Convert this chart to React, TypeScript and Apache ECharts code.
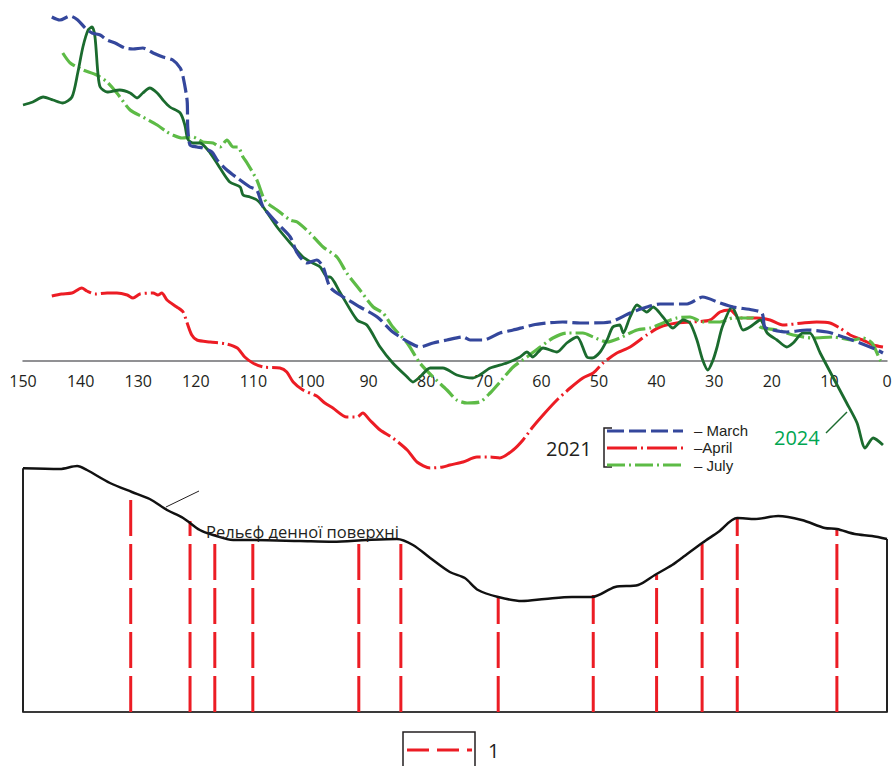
import React, { useEffect, useRef } from "react";
import * as echarts from "echarts";

// distance (x, decreasing to the right) and relative level values
const marchData: [number, number][] = [
  [145.0, 34.4], [143.6, 34.1], [141.8, 34.5], [140.5, 34.1], [139.2, 33.3], [138.0, 32.8], [136.6, 32.6],
  [135.4, 32.1], [134.0, 31.8], [132.3, 31.3], [130.9, 31.2], [129.2, 31.3], [127.4, 30.8], [125.7, 30.4],
  [124.0, 30.1], [122.7, 29.3], [122.2, 28.4], [121.5, 26.0], [121.4, 23.4], [121.0, 21.6], [119.8, 21.4],
  [118.8, 21.3], [117.2, 20.9], [116.3, 20.1], [114.6, 19.1], [112.8, 18.3], [110.6, 17.4], [109.4, 17.1],
  [108.3, 15.4], [105.9, 13.8], [103.6, 12.4], [102.4, 10.8], [100.7, 9.8], [99.0, 10.1], [97.9, 9.4],
  [96.7, 7.4], [94.4, 6.4], [91.5, 5.4], [88.5, 4.4], [85.8, 2.9], [82.8, 1.8], [81.1, 1.4], [78.8, 1.8],
  [76.4, 2.1], [73.6, 2.4], [72.4, 2.1], [70.1, 2.1], [67.2, 2.8], [64.9, 3.1], [61.5, 3.6], [59.0, 3.8],
  [56.3, 3.9], [53.3, 3.8], [52.1, 3.8], [48.1, 3.9], [44.6, 4.8], [41.7, 5.4], [39.4, 5.7], [34.7, 5.7],
  [32.0, 6.4], [29.0, 5.8], [26.7, 5.4], [23.3, 5.1], [21.7, 4.8], [21.2, 3.4], [19.8, 3.1], [17.4, 2.9],
  [13.9, 3.1], [10.4, 2.9], [7.6, 2.4], [4.7, 1.8], [1.7, 1.1], [0.7, 0.8],
];

const aprilData: [number, number][] = [
  [145.0, 6.5], [143.3, 6.7], [141.5, 6.8], [139.8, 7.3], [138.9, 7.0], [137.5, 6.7], [135.4, 6.8],
  [133.7, 6.8], [131.9, 6.6], [130.9, 6.3], [129.7, 6.7], [127.4, 6.8], [126.6, 6.6], [125.9, 6.8],
  [125.0, 6.1], [123.3, 5.4], [122.2, 4.9], [121.5, 3.8], [120.7, 2.6], [119.8, 2.1], [117.5, 1.9],
  [114.6, 1.7], [112.8, 1.3], [111.5, 0.4], [110.1, -0.2], [108.3, -0.6], [105.4, -0.7], [104.2, -1.1],
  [103.1, -2.1], [101.4, -2.9], [99.0, -3.5], [97.6, -4.2], [96.2, -4.7], [93.8, -5.6], [92.0, -5.6],
  [91.0, -5.2], [89.8, -5.9], [88.0, -6.9], [85.8, -7.7], [83.3, -8.9], [81.6, -10.1], [79.3, -10.7],
  [77.1, -10.6], [75.9, -10.4], [73.6, -10.1], [71.2, -9.6], [68.9, -9.6], [67.2, -9.7], [64.9, -8.9],
  [63.2, -7.9], [61.5, -6.6], [59.4, -5.2], [57.3, -3.9], [55.0, -2.7], [52.8, -1.7], [51.0, -1.2],
  [49.3, -0.2], [46.9, 0.8], [44.6, 1.4], [41.7, 2.6], [39.4, 3.4], [36.5, 3.8], [33.7, 3.9], [30.7, 4.1],
  [29.0, 4.9], [27.3, 5.1], [25.5, 4.3], [22.6, 4.3], [20.3, 4.1], [18.1, 3.6], [14.6, 3.8], [12.2, 3.9],
  [9.9, 3.8], [8.2, 3.3], [6.4, 2.6], [4.2, 2.1], [2.4, 1.6], [0.7, 1.4],
];

const julyData: [number, number][] = [
  [143.1, 30.8], [141.8, 29.8], [139.6, 29.1], [137.2, 28.6], [135.4, 27.9], [133.7, 26.8], [131.4, 25.1],
  [129.2, 24.4], [126.7, 23.6], [125.0, 22.9], [124.0, 22.6], [122.4, 22.3], [120.5, 22.4], [118.8, 21.9],
  [117.0, 21.8], [115.8, 21.4], [114.6, 22.1], [113.5, 21.4], [112.7, 21.4], [111.8, 20.4], [111.1, 19.8],
  [109.4, 18.1], [108.3, 16.4], [107.6, 15.8], [105.9, 15.1], [103.6, 14.1], [102.4, 13.9], [100.2, 12.8],
  [97.9, 11.4], [95.5, 10.4], [93.8, 8.8], [91.5, 7.1], [89.2, 5.4], [87.5, 4.8], [85.8, 3.4], [83.3, 1.8],
  [81.1, -0.2], [78.8, -1.6], [76.4, -2.9], [74.7, -3.9], [72.9, -4.2], [70.7, -4.1], [68.9, -3.2],
  [67.2, -2.1], [64.9, -0.6], [62.5, 0.4], [60.2, 1.4], [58.0, 2.3], [55.6, 2.8], [52.8, 2.8], [51.0, 2.4],
  [48.6, 1.9], [46.4, 2.3], [43.4, 3.1], [41.1, 3.3], [38.9, 3.8], [36.5, 4.3], [34.2, 4.4], [32.0, 3.9],
  [29.0, 3.9], [26.7, 4.3], [23.3, 4.3], [22.0, 3.4], [19.1, 3.1], [16.3, 2.6], [12.8, 2.3], [9.4, 2.4],
  [5.9, 2.1], [4.2, 2.3], [2.6, 1.8], [1.2, 0.1], [0.7, -0.2],
];

const data2024: [number, number][] = [
  [150.0, 25.6], [148.3, 25.9], [146.5, 26.4], [144.8, 26.1], [143.1, 25.8], [141.5, 26.4], [140.5, 28.8],
  [139.6, 31.4], [138.7, 33.1], [138.0, 33.4], [137.5, 32.4], [137.0, 28.8], [136.6, 27.4], [135.4, 26.9],
  [133.2, 27.1], [131.4, 26.8], [130.2, 26.3], [129.2, 26.8], [128.0, 27.3], [126.7, 26.8], [125.7, 26.1],
  [124.5, 25.4], [122.7, 24.8], [121.9, 23.6], [121.4, 22.2], [120.5, 21.8], [119.3, 21.8], [117.5, 20.8],
  [115.8, 19.3], [114.1, 17.9], [112.3, 17.4], [111.8, 16.6], [110.6, 16.4], [109.4, 16.1], [108.3, 15.4],
  [105.9, 13.4], [103.6, 11.8], [101.4, 10.4], [99.7, 9.8], [98.4, 9.4], [97.2, 8.4], [96.7, 8.4],
  [95.0, 6.9], [92.0, 4.1], [90.3, 3.6], [88.0, 1.4], [85.8, -0.2], [83.3, -1.6], [82.3, -2.1], [81.1, -1.6],
  [79.3, -0.7], [77.1, -0.7], [74.7, -1.4], [71.9, -1.7], [70.7, -1.4], [68.9, -0.7], [66.0, -0.2],
  [63.7, 0.4], [62.5, 0.9], [61.5, 0.4], [59.7, 1.3], [57.3, 0.9], [55.6, 1.8], [53.8, 2.4], [52.1, 0.4],
  [51.2, 0.3], [49.8, 0.9], [48.6, 2.1], [47.6, 3.4], [46.4, 3.6], [45.8, 2.8], [44.6, 4.4], [43.4, 5.6],
  [41.7, 4.9], [40.6, 5.4], [38.9, 4.4], [37.2, 3.3], [35.4, 4.1], [34.2, 3.8], [33.0, 2.1], [32.0, 0.1],
  [31.1, -0.9], [30.2, 0.1], [29.5, 1.4], [28.6, 3.4], [26.9, 5.4], [26.0, 4.4], [25.0, 3.1], [23.8, 3.4],
  [22.0, 4.1], [20.8, 2.8], [19.1, 2.1], [17.4, 1.4], [16.3, 1.8], [14.6, 2.8], [13.4, 2.8], [11.6, 0.8],
  [9.4, -1.6], [7.0, -4.2], [5.2, -6.2], [3.8, -8.7], [2.4, -7.7], [0.7, -8.4],
];

// ground-surface relief (bottom panel)
const reliefData: [number, number][] = [
  [150.0, 97.5], [143.6, 97.2], [140.6, 98.4], [138.9, 96.8], [134.9, 91.6], [131.1, 88.0], [128.0, 85.2],
  [125.0, 80.8], [122.2, 77.6], [119.3, 72.8], [117.0, 70.8], [113.5, 68.8], [110.1, 68.8], [101.9, 68.4],
  [96.2, 68.1], [90.3, 68.8], [85.1, 69.2], [82.3, 66.8], [79.3, 61.6], [75.9, 56.0], [73.3, 53.6],
  [71.0, 48.8], [67.5, 46.0], [63.4, 44.4], [59.4, 45.2], [54.7, 46.0], [51.2, 46.0], [47.2, 50.0],
  [43.2, 50.8], [40.3, 54.8], [37.3, 58.8], [35.6, 61.6], [32.1, 67.6], [29.3, 72.0], [26.0, 77.6],
  [22.9, 77.2], [18.9, 78.4], [14.8, 76.8], [10.8, 73.6], [8.7, 73.2], [5.6, 71.2], [2.6, 70.4], [0.0, 69.2],
];

// wells (legend "1"): position and top (surface) level
const wellPositions = [131.3, 121.0, 116.7, 110.1, 91.7, 84.4, 67.5, 51.0, 40.0, 32.1, 26.0, 8.7];
const wellTops = [88.0, 76.4, 71.2, 69.2, 69.2, 68.8, 46.0, 46.8, 54.8, 67.6, 77.6, 73.6];

const seriesNames = ["– March", "–April", "– July"];
const yearLabel2021 = "2021";
const yearLabel2024 = "2024";
const reliefLabel = "Рельєф денної поверхні";
const wellLegendLabel = "1";

const BLUE = "#34479c";
const RED = "#ec1c24";
const LGREEN = "#5dbb46";
const DGREEN = "#1b6b2e";
const TEXT = "#231f20";
const FONT = "'Open Sans', 'Noto Sans', sans-serif";
const FONT_SMALL = "'Liberation Sans', Arial, sans-serif";

const MARCH_DASH = [17, 5];
const APRIL_DASH = [42, 4, 2, 4];
const JULY_DASH = [18, 4, 2, 4];

export default function App() {
  const ref = useRef<HTMLDivElement>(null);

  useEffect(() => {
    if (!ref.current) return;
    const chart = echarts.init(ref.current, undefined, { renderer: "svg" });

    const wellSeries = wellPositions.map((d, i) => ({
      type: "line",
      name: "well" + i,
      xAxisIndex: 1,
      yAxisIndex: 1,
      symbol: "none",
      silent: true,
      data: [
        [d, 0],
        [d, wellTops[i]],
      ],
      lineStyle: { color: RED, width: 3, type: [36, 8] },
      z: 3,
    }));

    const lastRelief = reliefData[reliefData.length - 1];
    const firstRelief = reliefData[0];

    const top = (name: string, data: [number, number][], lineStyle: any) => ({
      type: "line",
      name,
      data,
      symbol: "none",
      smooth: 0.25,
      clip: false,
      lineStyle,
    });

    const option: any = {
      animation: false,
      grid: [
        { left: 23, right: 8, top: 11, height: 350 },
        { left: 23, right: 8, top: 462, height: 250 },
      ],
      xAxis: [
        {
          gridIndex: 0,
          type: "value",
          min: 0,
          max: 150,
          interval: 10,
          inverse: true,
          axisLine: { lineStyle: { color: "#6d6e71", width: 1.5 } },
          axisTick: { show: false },
          splitLine: { show: false },
          axisLabel: { fontSize: 16, color: TEXT, fontFamily: FONT, margin: 12 },
        },
        {
          gridIndex: 1,
          type: "value",
          min: 0,
          max: 150,
          inverse: true,
          axisLine: { lineStyle: { color: "#3a3a3a", width: 2 } },
          axisTick: { show: false },
          splitLine: { show: false },
          axisLabel: { show: false },
        },
      ],
      yAxis: [
        { gridIndex: 0, type: "value", min: 0, max: 35, show: false },
        { gridIndex: 1, type: "value", min: 0, max: 100, show: false },
      ],
      series: [
        top("April", aprilData, { color: RED, width: 3, type: APRIL_DASH }),
        top("July", julyData, { color: LGREEN, width: 3.2, type: JULY_DASH }),
        top("2024", data2024, { color: DGREEN, width: 2.8 }),
        top("March", marchData, { color: BLUE, width: 3.2, type: MARCH_DASH }),
        {
          type: "line",
          name: "relief",
          xAxisIndex: 1,
          yAxisIndex: 1,
          data: reliefData,
          symbol: "none",
          smooth: 0.3,
          lineStyle: { color: "#111", width: 2.5 },
          z: 4,
        },
        {
          type: "line",
          name: "leftEdge",
          xAxisIndex: 1,
          yAxisIndex: 1,
          data: [[firstRelief[0], 0], firstRelief],
          symbol: "none",
          lineStyle: { color: "#222", width: 2 },
        },
        {
          type: "line",
          name: "rightEdge",
          xAxisIndex: 1,
          yAxisIndex: 1,
          data: [[lastRelief[0], 0], lastRelief],
          symbol: "none",
          lineStyle: { color: "#222", width: 2 },
        },
        ...wellSeries,
      ],
      graphic: [
        // relief label and leader
        { type: "line", shape: { x1: 166, y1: 507, x2: 199, y2: 491 }, style: { stroke: TEXT, lineWidth: 1 }, z: 10 },
        {
          type: "text",
          x: 206,
          y: 531,
          style: { text: reliefLabel, fontSize: 16.5, fontFamily: FONT, fill: TEXT, verticalAlign: "middle" },
          z: 10,
        },
        // 2021 legend
        {
          type: "text",
          x: 546,
          y: 448,
          style: { text: yearLabel2021, fontSize: 20, fontFamily: FONT, fill: TEXT, verticalAlign: "middle" },
        },
        {
          type: "polyline",
          shape: { points: [[612, 428], [604, 428], [604, 467], [612, 467]] },
          style: { stroke: TEXT, lineWidth: 1.5, fill: "none" },
        },
        { type: "line", shape: { x1: 607, y1: 431, x2: 683, y2: 431 }, style: { stroke: BLUE, lineWidth: 3, lineDash: MARCH_DASH } },
        { type: "line", shape: { x1: 607, y1: 448, x2: 683, y2: 448 }, style: { stroke: RED, lineWidth: 3, lineDash: [30, 4, 2, 4] } },
        { type: "line", shape: { x1: 607, y1: 465, x2: 683, y2: 465 }, style: { stroke: LGREEN, lineWidth: 3, lineDash: JULY_DASH } },
        ...seriesNames.map((t, i) => ({
          type: "text",
          x: 694,
          y: 430 + i * 17.5,
          style: { text: t, fontSize: 15, lineHeight: 16, fontFamily: FONT_SMALL, fill: TEXT, verticalAlign: "middle" },
        })),
        // 2024 label
        {
          type: "text",
          x: 774,
          y: 437,
          style: { text: yearLabel2024, fontSize: 20, fontFamily: FONT, fill: "#00a651", verticalAlign: "middle" },
        },
        { type: "line", shape: { x1: 826, y1: 433, x2: 847, y2: 412 }, style: { stroke: DGREEN, lineWidth: 1.5 } },
        // wells legend
        {
          type: "rect",
          shape: { x: 403, y: 732, width: 72, height: 40 },
          style: { fill: "none", stroke: TEXT, lineWidth: 1.5 },
        },
        { type: "line", shape: { x1: 407, y1: 750, x2: 472, y2: 750 }, style: { stroke: RED, lineWidth: 3, lineDash: [22, 8] } },
        {
          type: "text",
          x: 488,
          y: 750,
          style: { text: wellLegendLabel, fontSize: 20, fontFamily: FONT, fill: TEXT, verticalAlign: "middle" },
        },
      ],
    };

    chart.setOption(option);
    return () => chart.dispose();
  }, []);

  return (
    <div
      ref={ref}
      style={{ position: "absolute", left: 0, top: 0, width: 895, height: 766, background: "#fff" }}
    />
  );
}
